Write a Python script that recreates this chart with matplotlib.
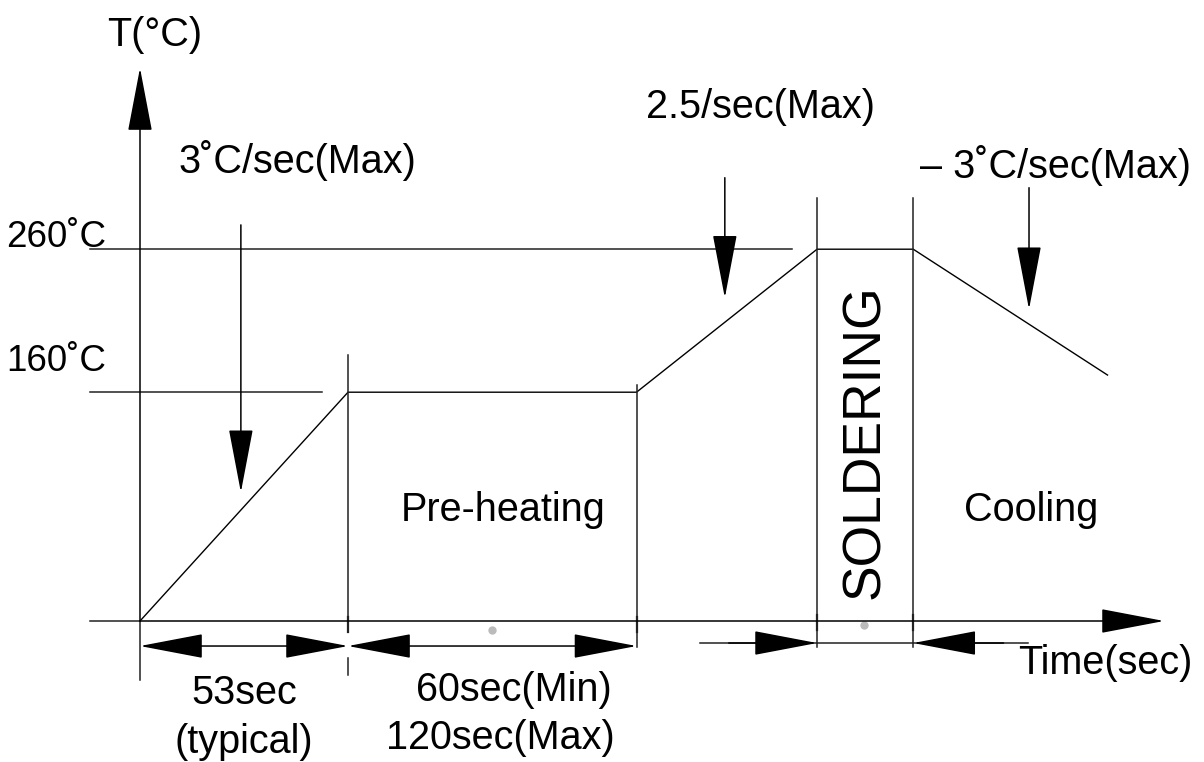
import matplotlib
matplotlib.use('Agg')
import matplotlib.pyplot as plt

plt.rcParams['font.family'] = ['Liberation Sans', 'DejaVu Sans']

# reflow profile: time (sec) / temperature (degC)
profile_time = [0, 53, 126.5, 172.5, 197, 246.5]
profile_temp = [0, 160, 160, 260, 260, 172]

# reference levels
level_temp = [160, 260]
level_label = ['160˚C', '260˚C']
level_end = [46.4, 166.1]

# slope notes
slope_label = ['3˚C/sec(Max)', '2.5/sec(Max)', '– 3˚C/sec(Max)']
slope_arrow_t = [25.7, 149, 226.5]
slope_arrow_from = [277, 310, 303]
slope_arrow_to = [90, 226, 218]

zone_label = ['Pre-heating', 'SOLDERING', 'Cooling']
dim_label = [['53sec', '(typical)'], ['60sec(Min)', '120sec(Max)']]

# pixel mapping of the drawing (origin at 140, 621)
kx, ky = 3.925, 1.43
W, H = 1204, 762

fig = plt.figure(figsize=(W / 100, H / 100), dpi=100)
ax = fig.add_axes([0, 0, 1, 1])
ax.set_xlim(-140 / kx, (W - 140) / kx)
ax.set_ylim((621 - H) / ky, 621 / ky)
ax.axis('off')

fs = 28.5
lc = '#222222'
lw = 1.1
head = dict(arrowstyle='-|>,head_length=41,head_width=7.8', mutation_scale=1,
            shrinkA=0, shrinkB=0, color='black', lw=lw)
head2 = dict(arrowstyle='<|-|>,head_length=41,head_width=7.8', mutation_scale=1,
             shrinkA=0, shrinkB=0, color='black', lw=lw)

# axes with arrows
ax.plot([-12.7, 0], [0, 0], color=lc, lw=lw)
ax.annotate('', xy=(260.9, 0), xytext=(0, 0), arrowprops=head)
ax.plot([0, 0], [-41.3, 0], color=lc, lw=lw)
ax.annotate('', xy=(0, 386.7), xytext=(0, 0), arrowprops=head)

# reference level lines
ax.plot([-12.7, level_end[0]], [level_temp[0]] * 2, color=lc, lw=lw)
ax.plot([-12.7, level_end[1]], [level_temp[1]] * 2, color=lc, lw=lw)
ax.text(-21.4, 175, level_label[0], fontsize=26.5, ha='center', va='baseline')
ax.text(-21.4, 261.5, level_label[1], fontsize=26.5, ha='center', va='baseline')

# profile
ax.plot(profile_time, profile_temp, color='black', lw=1.0)

# vertical boundary lines
ax.plot([profile_time[1]] * 2, [186, 0], color=lc, lw=lw)
ax.plot([profile_time[1]] * 2, [2.5, -8], color=lc, lw=1.6)
ax.plot([profile_time[1]] * 2, [-26, -38], color=lc, lw=lw)
ax.plot([profile_time[2]] * 2, [165, -18.2], color=lc, lw=lw)
ax.plot([profile_time[2]] * 2, [3, -8], color=lc, lw=1.6)
for t in profile_time[3:5]:
    ax.plot([t, t], [296, -18.2], color=lc, lw=lw)
    ax.plot([t, t], [4, -6], color=lc, lw=1.6)

# slope arrows
for t, y0, y1 in zip(slope_arrow_t, slope_arrow_from, slope_arrow_to):
    ax.annotate('', xy=(t, y1), xytext=(t, y0), arrowprops=head)
ax.text(40, 322, slope_label[0], fontsize=fs, ha='center', va='center')
ax.text(158.2, 359.4, slope_label[1], fontsize=fs, ha='center', va='center')
ax.text(267.8, 318.2, slope_label[2], fontsize=fs, ha='right', va='center')

# zone labels
ax.text(92.5, 77.6, zone_label[0], fontsize=fs, ha='center', va='center')
ax.text(184.8, 125.2, zone_label[1], fontsize=38.5, ha='center', va='center',
        rotation=90)
ax.text(227, 77.6, zone_label[2], fontsize=fs, ha='center', va='center')

# dimension arrows
ax.annotate('', xy=(0, -17.5), xytext=(profile_time[1], -17.5), arrowprops=head2)
ax.annotate('', xy=(profile_time[1], -17.5), xytext=(profile_time[2], -17.5),
            arrowprops=head2)
ax.plot([142.7, 226.2], [-15.4, -15.4], color=lc, lw=lw)
ax.annotate('', xy=(profile_time[3], -15.4), xytext=(150, -15.4), arrowprops=head)
ax.annotate('', xy=(profile_time[4], -15.4), xytext=(220, -15.4), arrowprops=head)

ax.text(26.5, -50.3, dim_label[0][0], fontsize=fs, ha='center', va='center')
ax.text(26.5, -84.6, dim_label[0][1], fontsize=fs, ha='center', va='center')
ax.text(95.2, -48.3, dim_label[1][0], fontsize=fs, ha='center', va='center')
ax.text(91.7, -81.8, dim_label[1][1], fontsize=fs, ha='center', va='center')
ax.text(245.9, -29.4, 'Time(sec)', fontsize=fs, ha='center', va='center')
ax.text(3.8, 409.8, 'T(°C)', fontsize=fs, ha='center', va='center')

# stray grey marks of the original drawing
ax.plot([89.7, 184.5], [-6.3, -3], 'o', color='#bbbbbb', ms=6, mec='none')

fig.savefig('out.png', dpi=100)
